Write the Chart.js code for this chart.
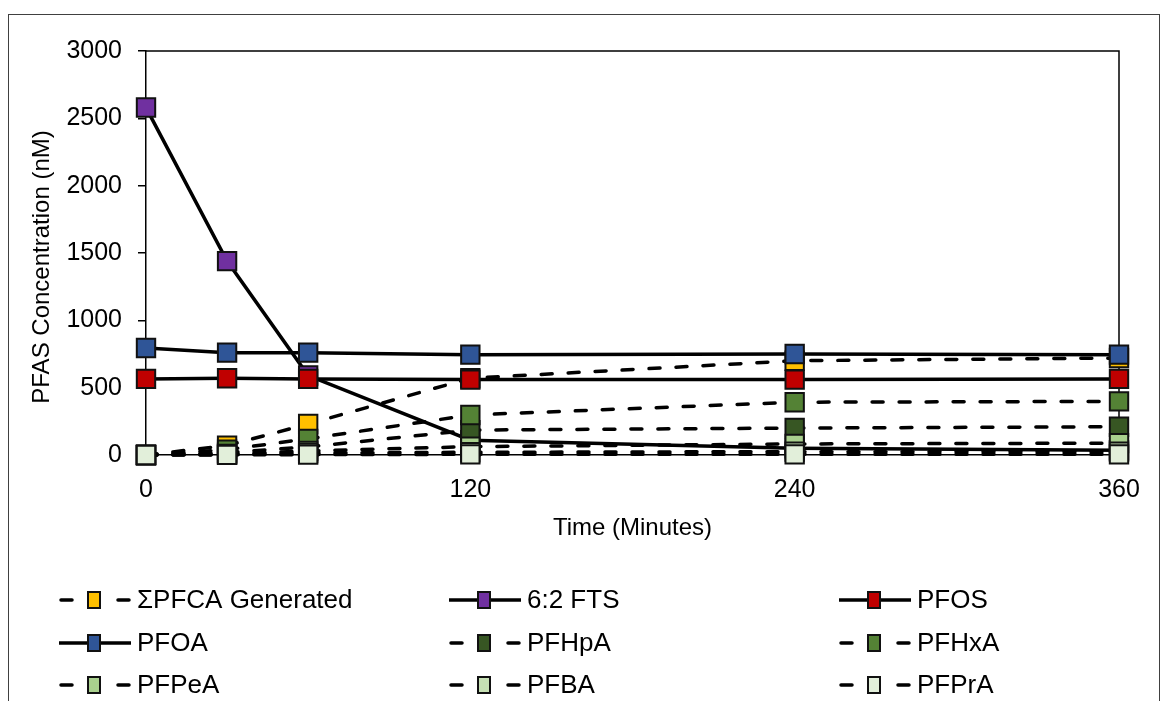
<!DOCTYPE html>
<html>
<head>
<meta charset="utf-8">
<script src="https://cdn.jsdelivr.net/npm/chart.js@4"></script>
<style>
  html, body { margin: 0; padding: 0; background: #fff; }
  canvas { display: block; }
</style>
</head>
<body>
<canvas id="pfasChart" width="1164" height="701"></canvas>
<script>
// sampling times (minutes)
const times = [0, 30, 60, 120, 240, 360];

// concentrations (nM)
const sumPFCA = [0, 70, 230, 570, 700, 720];
const fts62 = [2580, 1440, 590, 110, 50, 35];
const pfos = [565, 570, 565, 560, 560, 565];
const pfoa = [795, 760, 760, 745, 750, 745];
const pfhpa = [0, 18, 60, 185, 200, 210];
const pfhxa = [0, 40, 120, 297, 392, 398];
const pfpea = [0, 8, 30, 62, 82, 88];
const pfba = [0, 3, 15, 20, 25, 25];
const pfpra = [0, 1, 3, 5, 5, 5];

const xTicks = [0, 120, 240, 360];
const yTitle = 'PFAS Concentration (nM)';

const FONT = '"Liberation Sans", Arial, sans-serif';

function series(label, values, color, dashed) {
    return {
        label: label,
        data: times.map((t, i) => ({ x: t, y: values[i] })),
        borderColor: '#000',
        borderWidth: 3.5,
        borderDash: dashed ? [11, 16] : [],
        borderCapStyle: dashed ? 'round' : 'butt',
        pointStyle: 'rect',
        pointRadius: 13,
        pointHoverRadius: 13,
        pointBackgroundColor: color,
        pointBorderColor: '#111',
        pointBorderWidth: 2,
        tension: 0,
        clip: false,
        dashed: dashed
    };
}

const datasets = [
    series('\u03A3PFCA Generated', sumPFCA, '#FFC000', true),
    series('6:2 FTS', fts62, '#7030A0', false),
    series('PFOS', pfos, '#C00000', false),
    series('PFOA', pfoa, '#2F5597', false),
    series('PFHpA', pfhpa, '#375623', true),
    series('PFHxA', pfhxa, '#548235', true),
    series('PFPeA', pfpea, '#A9D08E', true),
    series('PFBA', pfba, '#C6E0B4', true),
    series('PFPrA', pfpra, '#E2EFDA', true)
];
// later series sit on top
datasets.forEach((d, i) => { d.order = datasets.length - 1 - i; });

// outer frame, plot box (top/right edges) and the rotated y title
const framePlugin = {
    id: 'frame',
    beforeDatasetsDraw(chart) {
        const { ctx, chartArea: a } = chart;
        ctx.save();
        ctx.strokeStyle = '#000';
        ctx.lineWidth = 1.5;
        ctx.beginPath();
        ctx.moveTo(a.left, a.top);
        ctx.lineTo(a.right, a.top);
        ctx.lineTo(a.right, a.bottom);
        ctx.stroke();

        ctx.translate(42, 267);
        ctx.rotate(-Math.PI / 2);
        ctx.fillStyle = '#000';
        ctx.font = '24px ' + FONT;
        ctx.textAlign = 'center';
        ctx.textBaseline = 'middle';
        ctx.fillText(yTitle, 0, 0);
        ctx.restore();
    },
    afterDraw(chart) {
        const ctx = chart.ctx;
        ctx.save();
        ctx.strokeStyle = '#404040';
        ctx.lineWidth = 1;
        ctx.strokeRect(8.5, 14.5, 1151, 700);
        ctx.restore();
    }
};

// three-column legend under the axis
const gridLegend = {
    id: 'gridLegend',
    afterDraw(chart) {
        const ctx = chart.ctx;
        const colX = [137, 527, 917];
        const rowY = [600, 643, 685];
        ctx.save();
        chart.data.datasets.forEach((d, i) => {
            const tx = colX[i % 3];
            const y = rowY[Math.floor(i / 3)];
            const x0 = tx - 78, x1 = tx - 6, mx = tx - 43;
            ctx.strokeStyle = '#000';
            ctx.lineWidth = 3.5;
            ctx.setLineDash([]);
            ctx.lineCap = d.dashed ? 'round' : 'butt';
            ctx.beginPath();
            if (d.dashed) {
                ctx.moveTo(x0 + 2, y); ctx.lineTo(x0 + 13, y);
                ctx.moveTo(x1 - 13, y); ctx.lineTo(x1 - 2, y);
            } else {
                ctx.moveTo(x0, y); ctx.lineTo(x1, y);
            }
            ctx.stroke();
            ctx.fillStyle = d.pointBackgroundColor;
            ctx.fillRect(mx - 6, y - 8, 12, 16);
            ctx.lineWidth = 2;
            ctx.strokeStyle = '#111';
            ctx.strokeRect(mx - 6, y - 8, 12, 16);
            ctx.fillStyle = '#000';
            ctx.font = '26px ' + FONT;
            ctx.textAlign = 'left';
            ctx.textBaseline = 'middle';
            ctx.fillText(d.label, tx, y + 1);
        });
        ctx.restore();
    }
};

new Chart(document.getElementById('pfasChart').getContext('2d'), {
    type: 'line',
    data: { datasets: datasets },
    options: {
        responsive: false,
        animation: false,
        devicePixelRatio: 1,
        layout: { padding: { left: 0, top: 51, right: 45, bottom: 158 } },
        plugins: {
            legend: { display: false },
            tooltip: { enabled: false }
        },
        scales: {
            x: {
                type: 'linear',
                min: 0,
                max: 360,
                afterFit(scale) { scale.height = 88; },
                afterBuildTicks(scale) { scale.ticks = xTicks.map(v => ({ value: v })); },
                border: { display: true, color: '#000', width: 1.5 },
                grid: { drawOnChartArea: false, drawTicks: true, tickLength: 6, color: '#000', lineWidth: 1.5 },
                ticks: { color: '#000', padding: 14, font: { family: FONT, size: 25 }, callback: v => String(v) },
                title: {
                    display: true,
                    text: 'Time (Minutes)',
                    color: '#000',
                    font: { family: FONT, size: 24 },
                    padding: { top: 0, bottom: 0 }
                }
            },
            y: {
                min: 0,
                max: 3000,
                afterFit(scale) { scale.width = 146; },
                border: { display: true, color: '#000', width: 1.5 },
                grid: { drawOnChartArea: false, drawTicks: true, tickLength: 8, color: '#000', lineWidth: 1.5 },
                ticks: { stepSize: 500, color: '#000', padding: 16, font: { family: FONT, size: 25 }, callback: v => String(v) },
                title: { display: false }
            }
        }
    },
    plugins: [framePlugin, gridLegend]
});
</script>
</body>
</html>
